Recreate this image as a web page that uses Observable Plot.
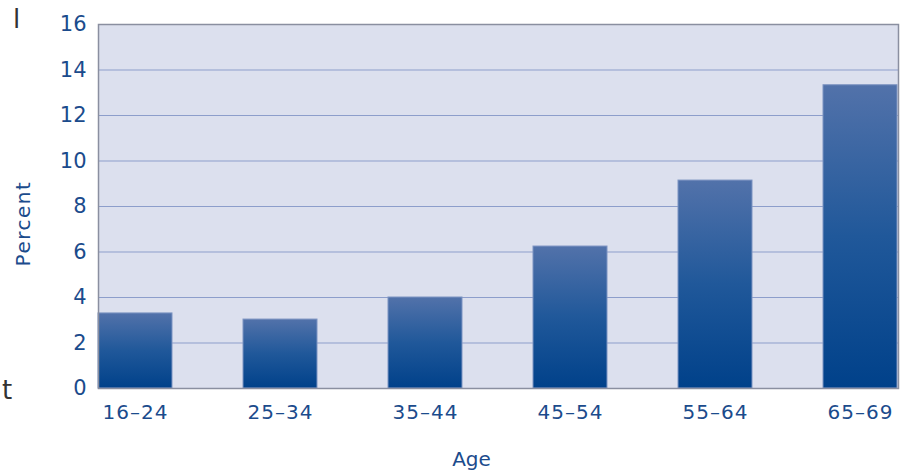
<!DOCTYPE html>
<html>
<head>
<meta charset="utf-8">
<script src="https://cdn.jsdelivr.net/npm/d3@7"></script>
<script src="https://cdn.jsdelivr.net/npm/@observablehq/plot@0.6"></script>
<style>
  html, body { margin: 0; padding: 0; background: #ffffff; }
  #wrap { position: relative; width: 900px; height: 471px; overflow: hidden; }
  .stray { position: absolute; font-family: "DejaVu Sans", sans-serif; color: #333; font-size: 26px; line-height: 1; }
</style>
</head>
<body>
<div id="wrap">
  <span class="stray" style="left:13px; top:6px;">l</span>
  <span class="stray" style="left:2px; top:377px;">t</span>
</div>
<script>
const ageGroups = ["16–24", "25–34", "35–44", "45–54", "55–64", "65–69"];
const percentValues = [3.3, 3.03, 4.0, 6.24, 9.14, 13.33];
const yTicks = [0, 2, 4, 6, 8, 10, 12, 14, 16];
const axisTitles = { x: "Age", y: "Percent" };

const data = ageGroups.map((a, i) => ({age: a, pct: percentValues[i]}));
const textColor = "#1b4b8c";

const chart = Plot.plot({
  width: 900,
  height: 471,
  marginTop: 24,
  marginBottom: 83,
  marginLeft: 98,
  marginRight: 2,
  style: { fontFamily: "'DejaVu Sans', sans-serif", background: "transparent", overflow: "visible" },
  x: { domain: ageGroups, padding: 0.49, paddingOuter: 0, align: 0, label: null },
  y: { domain: [0, 16], label: null },
  marks: [
    Plot.frame({ fill: "#dce0ee", stroke: "none" }),
    Plot.gridY(yTicks, { stroke: "#8d9ecb", strokeOpacity: 1, strokeWidth: 1 }),
    Plot.barY(data, { x: "age", y: "pct", fill: "url(#barGrad)", stroke: "#7d94c2", strokeWidth: 1, inset: 0 }),
    Plot.frame({ stroke: "#8a8fa0", strokeWidth: 1.5 }),
    Plot.axisY(yTicks, { tickSize: 0, tickPadding: 12, fontSize: 21, fill: textColor, label: null }),
    Plot.axisX({ tickSize: 0, tickPadding: 16, fontSize: 20, fill: textColor, label: null }),
    Plot.text([axisTitles.y], { text: d => d, frameAnchor: "left", dx: -75, dy: 17, rotate: -90, fontSize: 20, fill: textColor, textAnchor: "middle" }),
    Plot.text([axisTitles.x], { text: d => d, frameAnchor: "bottom", dx: -27, dy: 77, fontSize: 20, fill: textColor, textAnchor: "middle" })
  ]
});

const svg = d3.select(chart);
const defs = svg.insert("defs", ":first-child");
const g = defs.append("linearGradient").attr("id", "barGrad").attr("x1", 0).attr("y1", 0).attr("x2", 0).attr("y2", 1);
g.append("stop").attr("offset", "0%").attr("stop-color", "#5272aa");
g.append("stop").attr("offset", "50%").attr("stop-color", "#20589a");
g.append("stop").attr("offset", "100%").attr("stop-color", "#00418a");

svg.selectAll("text").filter(function() { return this.textContent === "Percent"; })
  .style("letter-spacing", "1.5px");
svg.selectAll("text").filter(function() { return ageGroups.includes(this.textContent); })
  .style("letter-spacing", "1px");

document.getElementById("wrap").appendChild(chart);
</script>
</body>
</html>
